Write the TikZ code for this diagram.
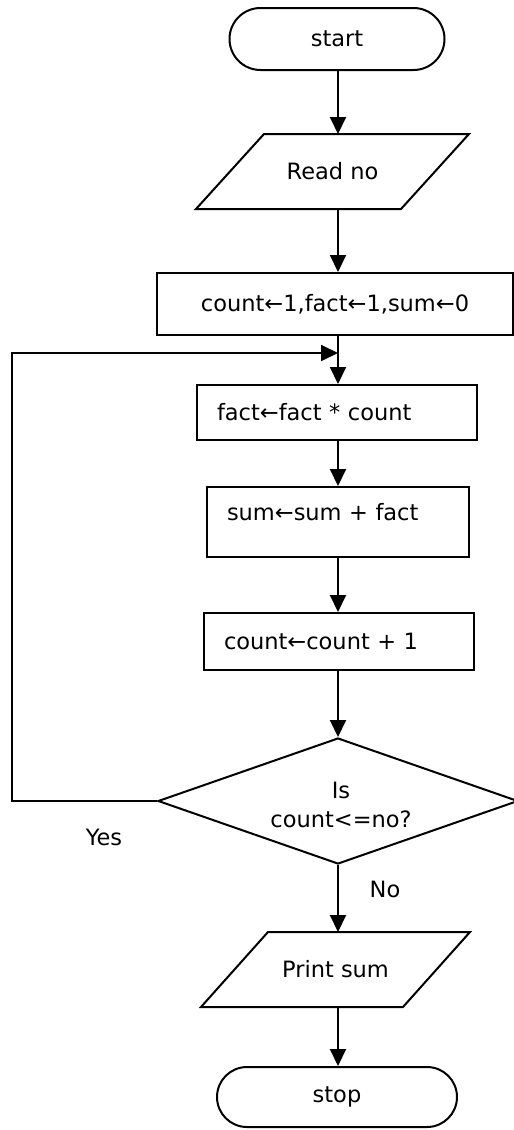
\documentclass[tikz,border=0pt]{standalone}
\usepackage{fontspec}
\setmainfont{DejaVu Sans}
\usetikzlibrary{arrows.meta,shapes.geometric,shapes.misc}
\begin{document}
\begin{tikzpicture}[x=1pt,y=-1pt,line width=2pt,
  every node/.style={font=\fontsize{22.5}{27}\selectfont},
  term/.style={draw,rounded rectangle,minimum height=62pt,inner sep=0pt},
  iobody/.style={rectangle,minimum height=73pt,inner sep=0pt},
  proc/.style={draw,rectangle,inner sep=0pt},
  procl/.style={draw,rectangle,inner ysep=0pt,inner xsep=20pt,align=left},
  dec/.style={draw,diamond,inner sep=0pt},
  flow/.style={-{Triangle[length=17pt,width=16pt]}},
  lbl/.style={inner sep=0pt}]
\useasboundingbox (0,0) rectangle (514,1130);
\coordinate (ax) at (338,0);
\node[term,minimum width=215pt] (start) at (337,39) {start};
\node[iobody,minimum width=203pt] (read) at (332.5,171.5) {Read no};
\draw ([xshift=-34pt]read.south west) -- ([xshift=34pt]read.north west)
  -- ([xshift=34pt]read.north east) -- ([xshift=-34pt]read.south east) -- cycle;
\node[proc,minimum width=356pt,minimum height=62pt] (init) at (335,304) {count←1,fact←1,sum←0};
\node[procl,text width=240pt,minimum height=55pt] (fact) at (337,412.5) {fact←fact * count};
\node[procl,text width=222pt,minimum height=70pt,text height=16pt,text depth=20pt] (sum) at (338,522) {sum←sum + fact};
\node[procl,text width=230pt,minimum height=57pt] (cnt) at (339,641.5) {count←count + 1};
\node[dec,minimum width=360pt,minimum height=126pt] (dec) at (338,801) {};
\node[lbl,align=center] (dect) at (341,805) {Is\\[2pt]count<=no?};
\node[lbl] (yes) at (104,837) {Yes};
\node[lbl] (no) at (385,889) {No};
\node[iobody,minimum width=200pt] (print) at (335.5,969.5) {Print sum};
\draw ([xshift=-33.5pt]print.south west) -- ([xshift=33.5pt]print.north west)
  -- ([xshift=33.5pt]print.north east) -- ([xshift=-33.5pt]print.south east) -- cycle;
\node[term,minimum width=240pt,minimum height=60pt] (stop) at (337,1097) {stop};
\coordinate (j) at (338,353);
\coordinate (lb) at (12,801);
\coordinate (lt) at (12,353);
\draw[flow] (start.south -| ax) -- (read.north -| ax);
\draw[flow] (read.south -| ax) -- (init.north -| ax);
\draw[flow] (init.south -| ax) -- (fact.north -| ax);
\draw[flow] (fact.south -| ax) -- (sum.north -| ax);
\draw[flow] (sum.south -| ax) -- (cnt.north -| ax);
\draw[flow] (cnt.south -| ax) -- (dec.north);
\draw[flow] (dec.south) -- (print.north -| dec.south);
\draw[flow] (print.south -| dec.south) -- (stop.north -| dec.south);
\draw[flow] (dec.west) -- (lb) -- (lt) -- (j);
\end{tikzpicture}
\end{document}
